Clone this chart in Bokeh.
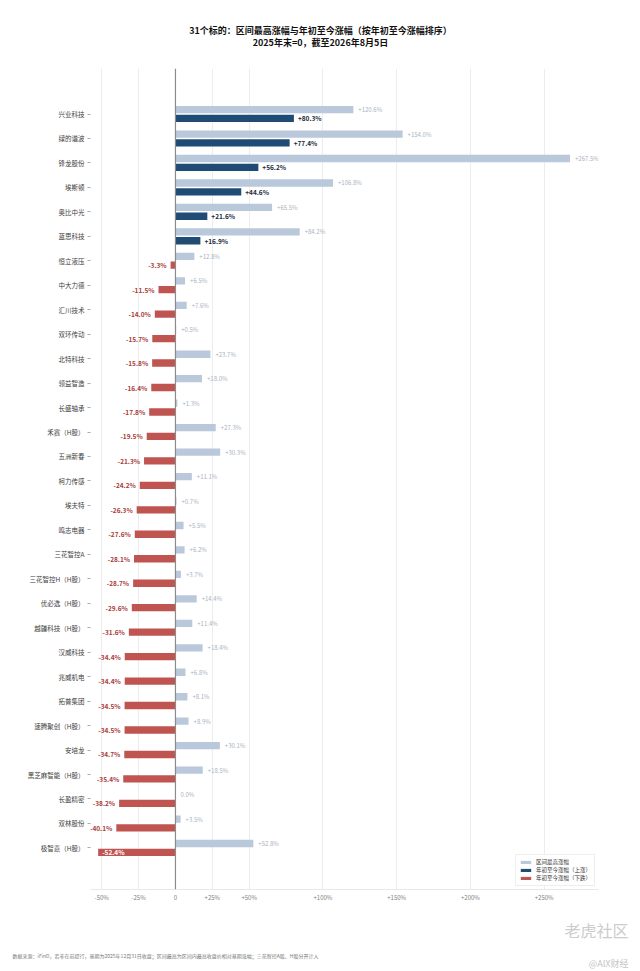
from bokeh.plotting import figure
from bokeh.models import (ColumnDataSource, Range1d, FixedTicker, Span, Legend, LegendItem, Title)
from bokeh.layouts import column
from bokeh.transform import dodge
from bokeh.core.properties import value
from bokeh.embed import file_html
from bokeh.resources import INLINE

FONT = "Noto Sans CJK SC"

names = ["兴业科技", "绿的谐波", "锋龙股份", "埃斯顿", "奥比中光", "蓝思科技", "恒立液压",
         "中大力德", "汇川技术", "双环传动", "北特科技", "领益智造", "长盛轴承", "禾赛（H股）",
         "五洲新春", "柯力传感", "埃夫特", "鸣志电器", "三花智控A", "三花智控H（H股）",
         "优必选（H股）", "越疆科技（H股）", "汉威科技", "兆威机电", "拓普集团",
         "速腾聚创（H股）", "安培龙", "黑芝麻智能（H股）", "长盈精密", "双林股份", "极智嘉（H股）"]
max_gain = [120.6, 154.0, 267.5, 106.8, 65.5, 84.2, 12.8, 6.5, 7.6, 0.5, 23.7, 18.0, 1.3, 27.3,
            30.3, 11.1, 0.7, 5.5, 6.2, 3.7, 14.4, 11.4, 18.4, 6.8, 8.1, 8.9, 30.1, 18.5, 0.0,
            3.5, 52.8]
ytd = [80.3, 77.4, 56.2, 44.6, 21.6, 16.9, -3.3, -11.5, -14.0, -15.7, -15.8, -16.4, -17.8,
       -19.5, -21.3, -24.2, -26.3, -27.6, -28.1, -28.7, -29.6, -31.6, -34.4, -34.4, -34.5,
       -34.5, -34.7, -35.4, -38.2, -40.1, -52.4]
x_ticks = [-50, -25, 0, 25, 50, 100, 150, 200, 250]
x_tick_labels = ["-50%", "-25%", "0", "+25%", "+50%", "+100%", "+150%", "+200%", "+250%"]
legend_labels = ["区间最高涨幅", "年初至今涨幅（上涨）", "年初至今涨幅（下跌）"]
title_1 = "31个标的：区间最高涨幅与年初至今涨幅（按年初至今涨幅排序）"
title_2 = "2025年末=0，截至2026年8月5日"
footer = "数据来源：iFinD，若非在前提行，基期为2025年12月31日收盘；区间最高为区间内最高收盘价相对基期涨幅；三花智控A股、H股分开计入"
mark_1 = "老虎社区"
mark_2 = "@AIX财经"

C_GREY = "#b9c8db"
C_UP = "#1f4b75"
C_DOWN = "#bf5450"

W = 632
HEAD_H = 68
MAIN_H = 901
FL, FR = 90, 598
FB = 897 - HEAD_H  # frame bottom inside the main figure

n = len(names)
ys = list(range(n))


def fmt(v):
    if v > 0:
        return f"+{v:.1f}%"
    return f"{v:.1f}%"


grey_src = ColumnDataSource(dict(y=ys, v=max_gain, t=[fmt(v) for v in max_gain]))
up_idx = [i for i in ys if ytd[i] >= 0]
dn_idx = [i for i in ys if ytd[i] < 0]
up_src = ColumnDataSource(dict(y=up_idx, v=[ytd[i] for i in up_idx], t=[fmt(ytd[i]) for i in up_idx]))
dn_out = [i for i in dn_idx if ytd[i] > -45]
dn_in = [i for i in dn_idx if ytd[i] <= -45]
dn_src = ColumnDataSource(dict(y=dn_idx, v=[ytd[i] for i in dn_idx]))
dn_out_src = ColumnDataSource(dict(y=dn_out, v=[ytd[i] for i in dn_out], t=[fmt(ytd[i]) for i in dn_out]))
dn_in_src = ColumnDataSource(dict(y=dn_in, v=[ytd[i] for i in dn_in], t=[fmt(ytd[i]) for i in dn_in]))

# ---- header (its frame is aligned with the main frame: x in page pixels) ----
head = figure(width=W, height=HEAD_H, output_backend="svg", toolbar_location=None,
              x_range=Range1d(FL, FR), y_range=Range1d(HEAD_H, 0),
              min_border_left=FL, min_border_right=W - FR, min_border_top=0, min_border_bottom=0)
head.axis.visible = False
head.grid.visible = False
head.outline_line_color = None
head.text(x=[320, 320], y=[30, 42], text=[title_1, title_2], text_align="center",
          text_baseline="middle", text_font=value(FONT), text_font_size="9px",
          text_font_style="bold", text_color="#111111")

# ---- main chart ----
p = figure(width=W, height=MAIN_H, output_backend="svg", toolbar_location=None,
           x_range=Range1d(-57.6, 286.8), y_range=Range1d(31.70, -1.86),
           min_border_left=FL, min_border_right=W - FR, min_border_top=0,
           min_border_bottom=MAIN_H - FB)
p.outline_line_color = None

OFF = 0.18
BH = 0.30
yr = p.y_range
r_grey = p.hbar(y=dodge("y", -OFF, range=yr), left=0, right="v", height=BH, source=grey_src,
                fill_color=C_GREY, line_color=None)
r_up = p.hbar(y=dodge("y", OFF, range=yr), left=0, right="v", height=BH, source=up_src,
              fill_color=C_UP, line_color=None)
r_dn = p.hbar(y=dodge("y", OFF, range=yr), left=0, right="v", height=BH, source=dn_src,
              fill_color=C_DOWN, line_color=None)

p.text(x="v", y=dodge("y", -OFF, range=yr), text="t", source=grey_src, x_offset=5,
       text_align="left", text_baseline="middle", text_font=value(FONT),
       text_font_size="6px", text_color="#a9b3c1")
p.text(x="v", y=dodge("y", OFF, range=yr), text="t", source=up_src, x_offset=4,
       text_align="left", text_baseline="middle", text_font=value(FONT),
       text_font_size="6.5px", text_font_style="bold", text_color="#1b2a3a")
p.text(x="v", y=dodge("y", OFF, range=yr), text="t", source=dn_out_src, x_offset=-4,
       text_align="right", text_baseline="middle", text_font=value(FONT),
       text_font_size="6.5px", text_font_style="bold", text_color="#a83c3a")
p.text(x="v", y=dodge("y", OFF, range=yr), text="t", source=dn_in_src, x_offset=4,
       text_align="left", text_baseline="middle", text_font=value(FONT),
       text_font_size="6.5px", text_font_style="bold", text_color="white")

p.add_layout(Span(location=0, dimension="height", line_color="#8c8c8c", line_width=1.2))

p.xaxis.ticker = FixedTicker(ticks=x_ticks)
p.xaxis.major_label_overrides = {t: l for t, l in zip(x_ticks, x_tick_labels)}
p.xaxis.axis_line_color = "#e8e8e8"
p.xaxis.major_tick_line_color = None
p.xaxis.major_tick_out = 0
p.xaxis.major_tick_in = 0
p.xaxis.minor_tick_line_color = None
p.xaxis.minor_tick_out = 0
p.xaxis.major_label_text_font = FONT
p.xaxis.major_label_text_font_size = "6px"
p.xaxis.major_label_text_color = "#808080"
p.xaxis.major_label_standoff = 3

p.yaxis.ticker = FixedTicker(ticks=ys)
p.yaxis.major_label_overrides = {i: nm for i, nm in enumerate(names)}
p.yaxis.axis_line_color = None
p.yaxis.major_tick_line_color = "#aaaaaa"
p.yaxis.major_tick_in = 0
p.yaxis.major_tick_out = 3
p.yaxis.minor_tick_line_color = None
p.yaxis.major_label_text_font = FONT
p.yaxis.major_label_text_font_size = "6.5px"
p.yaxis.major_label_text_color = "#404040"
p.yaxis.major_label_standoff = 3

p.xgrid.grid_line_color = "#ededed"
p.ygrid.grid_line_color = None

legend = Legend(items=[LegendItem(label=legend_labels[0], renderers=[r_grey]),
                       LegendItem(label=legend_labels[1], renderers=[r_up]),
                       LegendItem(label=legend_labels[2], renderers=[r_dn])],
                location="bottom_right")
legend.label_text_font = FONT
legend.label_text_font_size = "5.5px"
legend.label_text_color = "#333333"
legend.glyph_width = 13
legend.glyph_height = 4
legend.label_height = 6
legend.label_standoff = 4
legend.spacing = 0
legend.padding = 3
legend.margin = 3
legend.border_line_color = "#dddddd"
legend.background_fill_alpha = 0.95
p.add_layout(legend)

# below: watermark, footer, watermark 2
p.add_layout(Title(text=mark_1, align="right", offset=-30, text_font=FONT,
                   text_font_size="16px", text_font_style="normal", text_color="#cccccc",
                   standoff=23), "below")
p.add_layout(Title(text=footer, align="left", offset=12 - FL, text_font=FONT,
                   text_font_size="5px", text_font_style="normal", text_color="#777777",
                   standoff=-8), "below")
p.add_layout(Title(text=mark_2, align="right", offset=-30, text_font=FONT,
                   text_font_size="9px", text_font_style="normal", text_color="#c4c4c4",
                   standoff=0), "below")

layout = column(head, p, spacing=0)
open("out.html", "w").write(file_html(layout, INLINE))
